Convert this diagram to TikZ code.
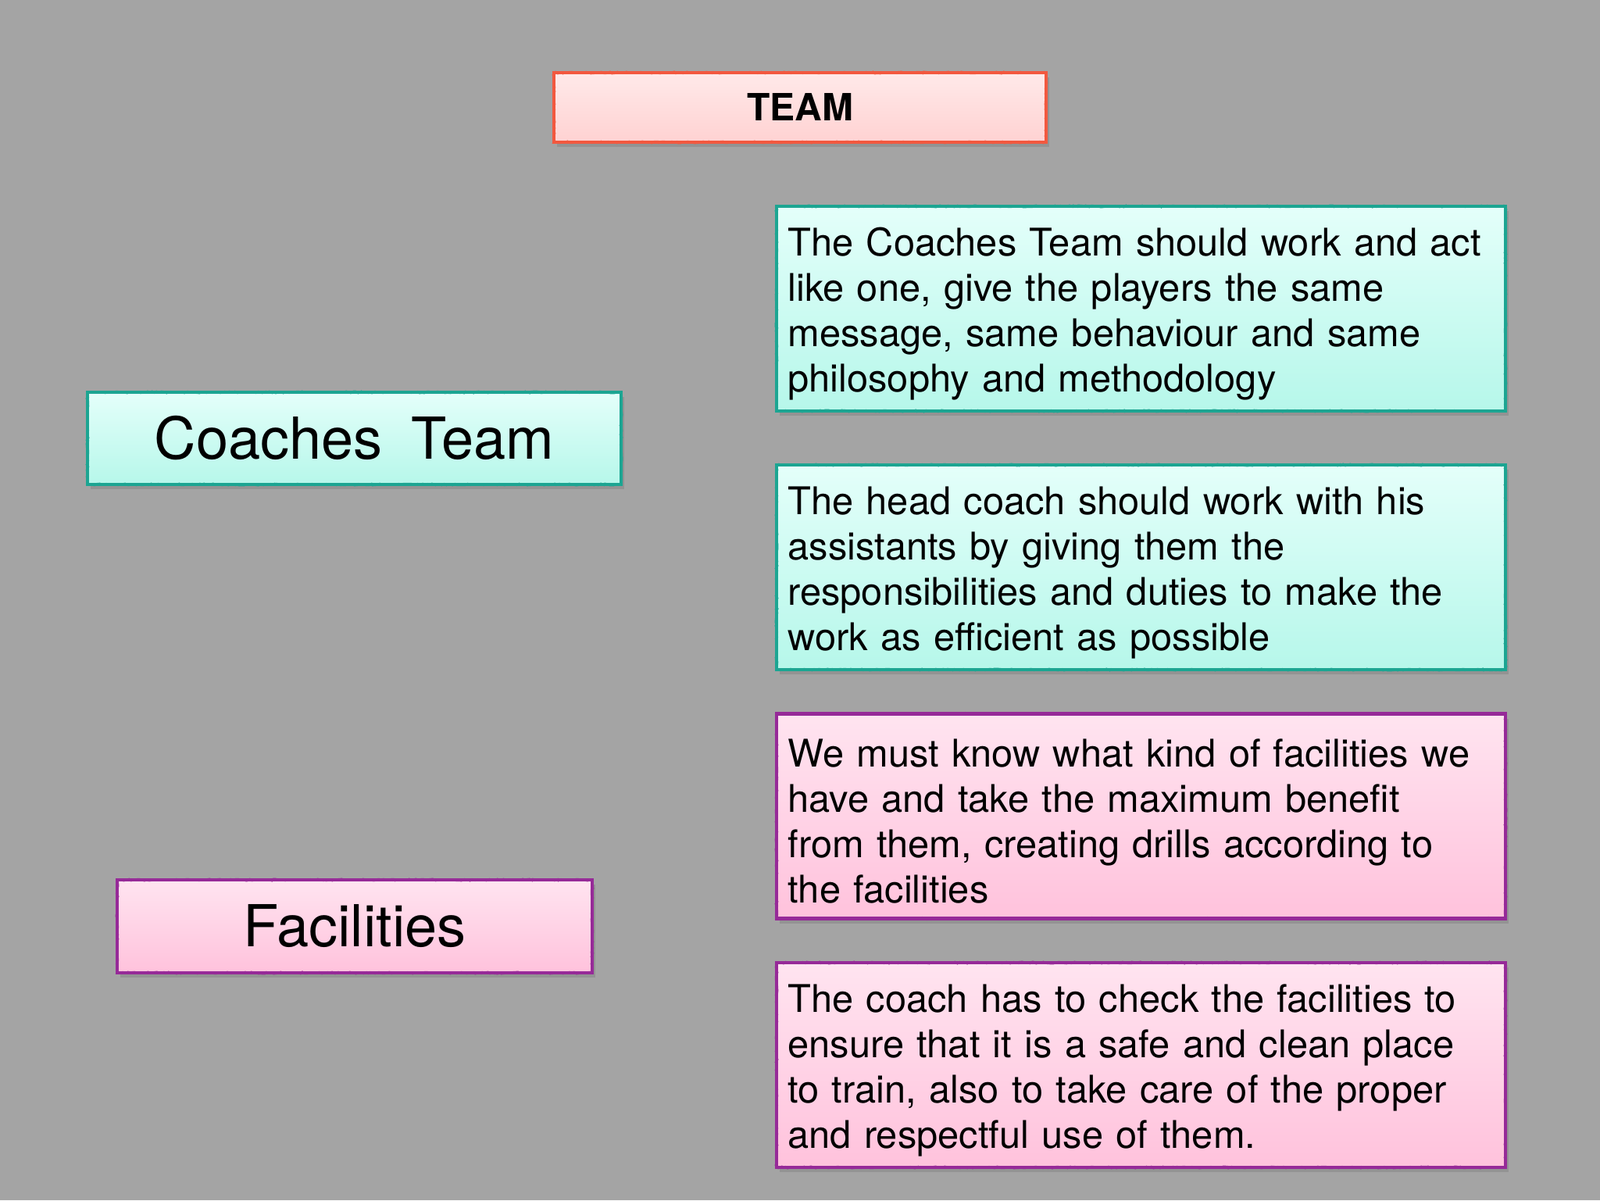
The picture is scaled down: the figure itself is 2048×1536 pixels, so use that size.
\documentclass[tikz,border=0pt]{standalone}
\usepackage{fontspec}
\setmainfont{TeX Gyre Heros}
\usetikzlibrary{shadows,shadings,decorations.pathmorphing}
\definecolor{bg}{HTML}{A4A4A4}
\definecolor{redB}{HTML}{F2583F}
\definecolor{redT}{HTML}{FFE9E9}
\definecolor{redBo}{HTML}{FFD2D2}
\definecolor{tealB}{HTML}{1CA592}
\definecolor{tealT}{HTML}{E4FFFA}
\definecolor{tealBo}{HTML}{B6F7EA}
\definecolor{purB}{HTML}{962A98}
\definecolor{purT}{HTML}{FFE4F0}
\definecolor{purBo}{HTML}{FFC2DC}
\newcommand{\firstline}{\rule{0pt}{24.5pt}}
\tikzset{
  card/.style={rectangle, line width=2.2pt, inner xsep=7pt, inner ysep=0pt,
    drop shadow={opacity=0.45, shadow xshift=2pt, shadow yshift=-3pt}},
  rough/.style={postaction={draw=#1, line width=1.2pt, decorate,
    decoration={random steps, segment length=1.5pt, amplitude=0.6pt}}},
  redcard/.style={card, draw=redB, top color=redT, bottom color=redBo, rough=redB},
  tealcard/.style={card, draw=tealB, top color=tealT, bottom color=tealBo, rough=tealB},
  purcard/.style={card, draw=purB, top color=purT, bottom color=purBo, rough=purB},
  bigtext/.style={font=\fontsize{37}{44}\selectfont},
  bodytext/.style={font=\fontsize{24.4}{29}\selectfont, align=left,
    text width=452pt, minimum width=466.5pt, minimum height=131pt}
}
\begin{document}
\begin{tikzpicture}[x=0.5pt,y=-0.5pt]
\fill[bg] (0,0) rectangle (2048,1536);
\useasboundingbox (0,0) rectangle (2048,1536);

\node[redcard, minimum width=315pt, minimum height=44.5pt,
  font=\bfseries\fontsize{24}{29}\selectfont] (team) at (1024,137.5) {TEAM};

\node[tealcard, bigtext, minimum width=341.5pt, minimum height=59pt] (coaches) at (453.5,561) {Coaches\hspace{0.5em}Team};
\node[purcard, bigtext, minimum width=304pt, minimum height=59.5pt] (facilities) at (454,1185.5) {Facilities};

\node[tealcard, bodytext] (c1) at (1460.5,395) {\firstline The Coaches Team should work and act\\like one, give the players the same\\message, same behaviour and same\\philosophy and methodology};
\node[tealcard, bodytext] (c2) at (1460.5,726) {\firstline The head coach should work with his\\assistants by giving them the\\responsibilities and duties to make the\\work as efficient as possible};
\node[purcard, bodytext] (f1) at (1460.5,1044.5) {\firstline We must know what kind of facilities we\\have and take the maximum benefit\\from them, creating drills according to\\the facilities};
\node[purcard, bodytext] (f2) at (1460.5,1363) {\firstline The coach has to check the facilities to\\ensure that it is a safe and clean place\\to train, also to take care of the proper\\and respectful use of them.};
\end{tikzpicture}
\end{document}
